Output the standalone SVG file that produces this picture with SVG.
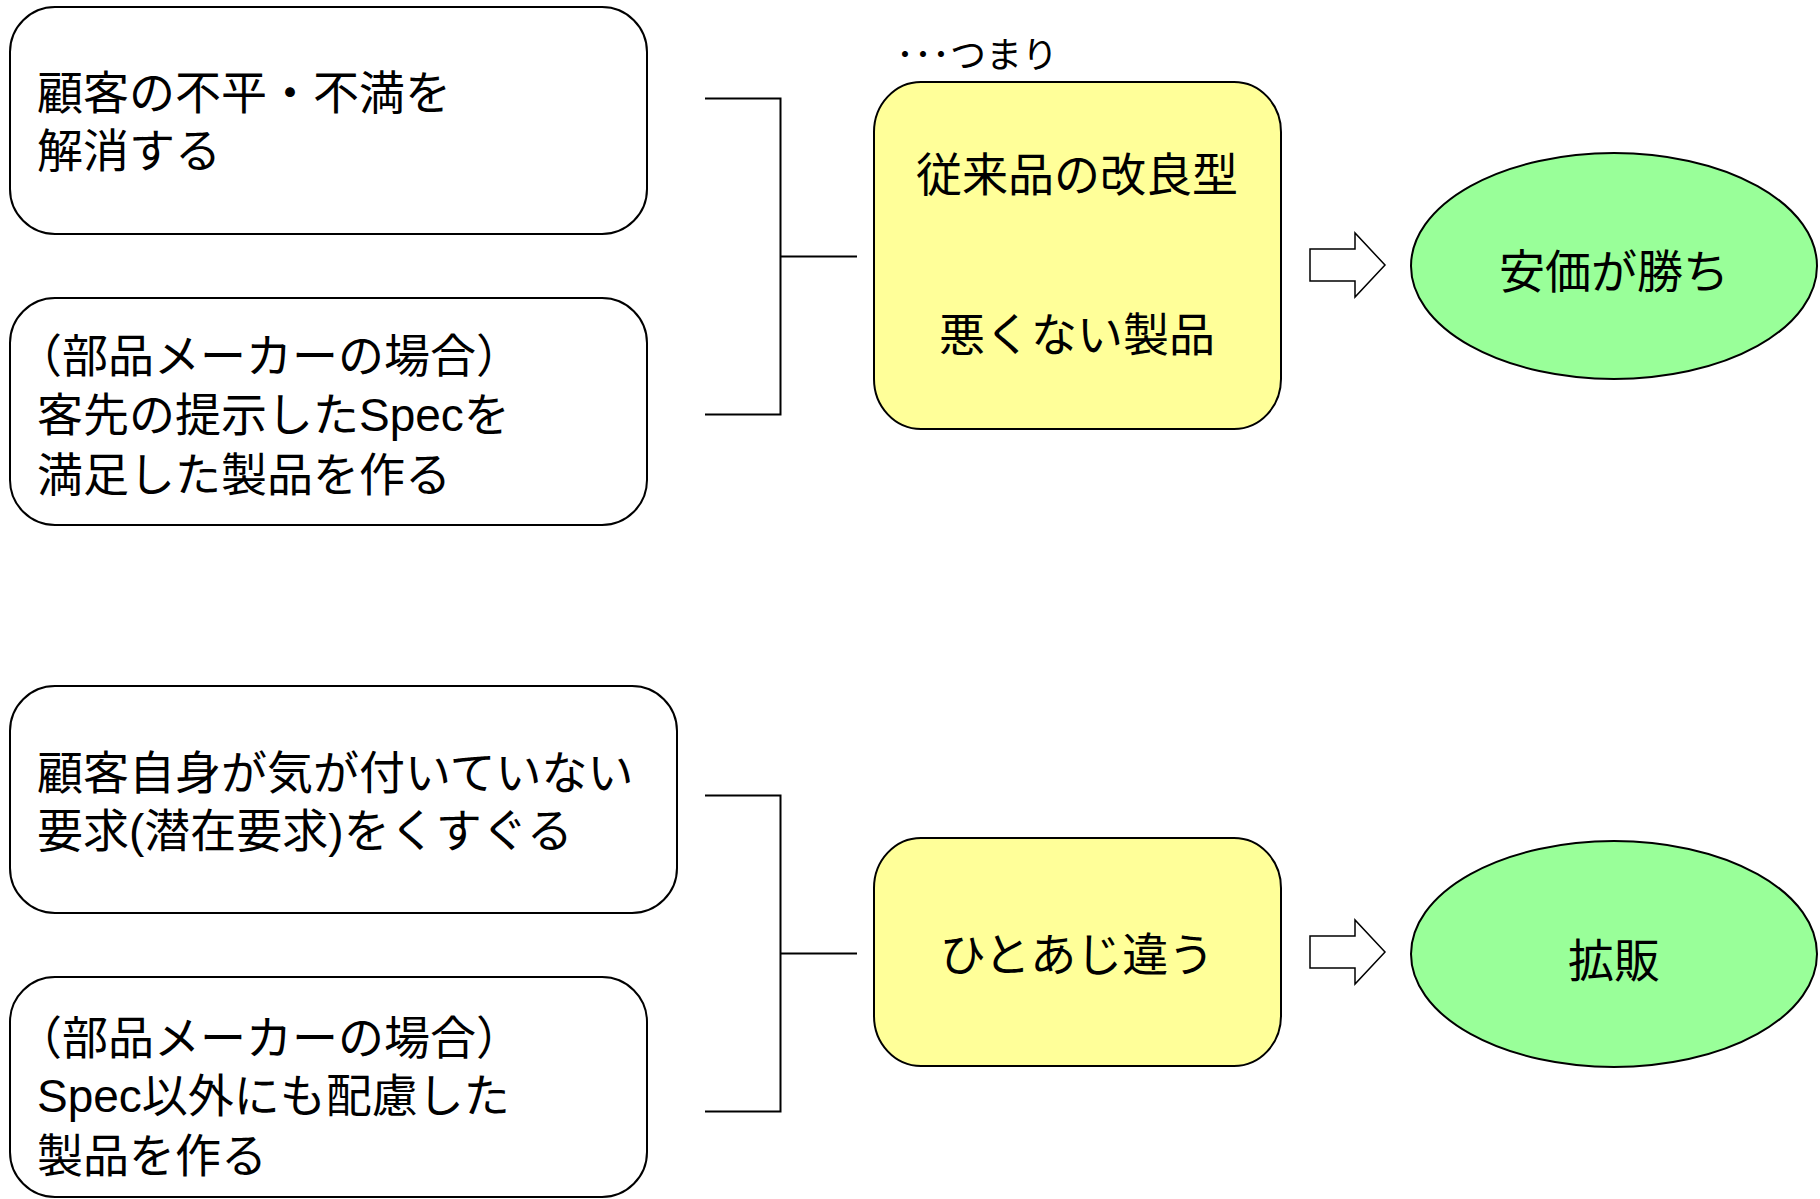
<svg xmlns="http://www.w3.org/2000/svg" width="1820" height="1199" viewBox="0 0 1820 1199">
<style>
.box{fill:#fff;stroke:#000;stroke-width:2}
.yel{fill:#ffff99;stroke:#000;stroke-width:2}
.grn{fill:#99ff99;stroke:#000;stroke-width:2}
.arr{fill:#fff;stroke:#000;stroke-width:1.5}
.ln{fill:none;stroke:#000;stroke-width:2}
text{font-family:"Liberation Sans","Noto Sans CJK JP",sans-serif;font-size:46px;fill:#000}
.c{text-anchor:middle}
.s{font-size:36px}
</style>
<rect width="1820" height="1199" fill="#fff"/>
<g id="connectors">
<polyline class="ln" points="705,98.5 780.5,98.5 780.5,414.5 705,414.5"/>
<line class="ln" x1="780.5" y1="256.5" x2="857" y2="256.5"/>
<polyline class="ln" points="705,795.5 780.5,795.5 780.5,1111.5 705,1111.5"/>
<line class="ln" x1="780.5" y1="953.5" x2="857" y2="953.5"/>
<polygon class="arr" points="1310,249 1355,249 1355,233 1385,265 1355,297 1355,281 1310,281"/>
<polygon class="arr" points="1310,936 1355,936 1355,920 1385,952 1355,984 1355,968 1310,968"/>
</g>
<g id="node1">
<rect class="box" x="10" y="7" width="637" height="227" rx="45" ry="45"/>
<text x="37" y="109">顧客の不平・不満を</text>
<text x="37" y="167">解消する</text>
</g>
<g id="node2">
<rect class="box" x="10" y="298" width="637" height="227" rx="45" ry="45"/>
<text x="16" y="372">（部品メーカーの場合）</text>
<text x="37" y="431">客先の提示したSpecを</text>
<text x="37" y="491">満足した製品を作る</text>
</g>
<g id="label-tsumari">
<text class="s" x="896" y="68">･･･つまり</text>
</g>
<g id="node3">
<rect class="yel" x="874" y="82" width="407" height="347" rx="47" ry="50"/>
<text class="c" x="1077" y="191">従来品の改良型</text>
<text class="c" x="1077" y="351">悪くない製品</text>
</g>
<g id="node4">
<ellipse class="grn" cx="1614" cy="266" rx="203" ry="113"/>
<text class="c" x="1614" y="288">安価が勝ち</text>
</g>
<g id="node5">
<rect class="box" x="10" y="686" width="667" height="227" rx="45" ry="45"/>
<text x="37" y="789">顧客自身が気が付いていない</text>
<text x="37" y="847">要求(潜在要求)をくすぐる</text>
</g>
<g id="node6">
<rect class="box" x="10" y="977" width="637" height="220" rx="45" ry="45"/>
<text x="16" y="1054">（部品メーカーの場合）</text>
<text x="37" y="1112">Spec以外にも配慮した</text>
<text x="37" y="1172">製品を作る</text>
</g>
<g id="node7">
<rect class="yel" x="874" y="838" width="407" height="228" rx="47" ry="50"/>
<text class="c" x="1077" y="971">ひとあじ違う</text>
</g>
<g id="node8">
<ellipse class="grn" cx="1614" cy="954" rx="203" ry="113"/>
<text class="c" x="1614" y="977">拡販</text>
</g>
</svg>
